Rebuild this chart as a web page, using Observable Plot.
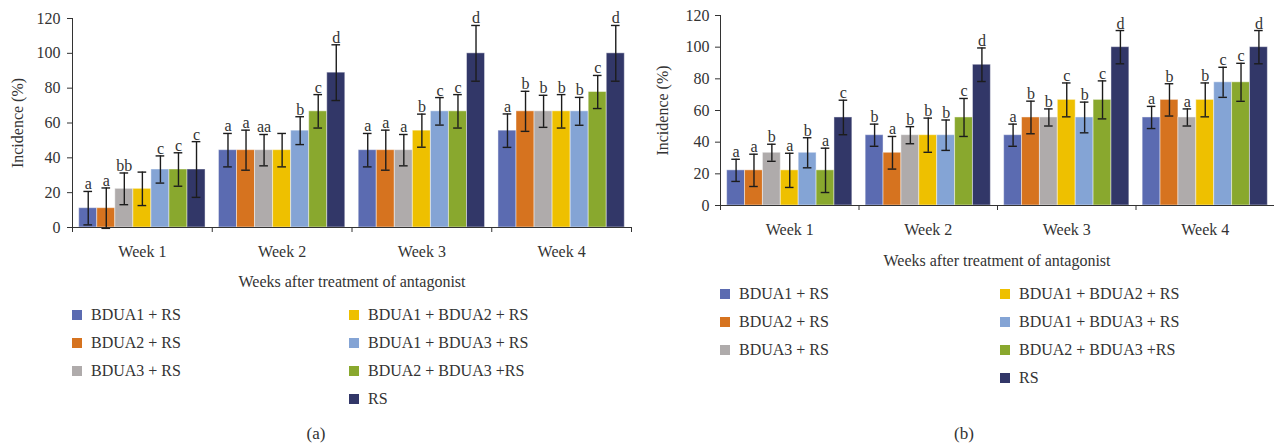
<!DOCTYPE html>
<html>
<head>
<meta charset="utf-8">
<script src="https://cdn.jsdelivr.net/npm/d3@7"></script>
<script src="https://cdn.jsdelivr.net/npm/@observablehq/plot@0.6"></script>
<style>
  html, body { margin: 0; padding: 0; background: #fff; }
  #page { position: relative; width: 1274px; height: 447px; font-family: 'Liberation Serif', 'DejaVu Serif', serif; color: #333; overflow: hidden; }
  #page svg text { font-size: 16px; }
  .panel { position: absolute; top: 0; }
  .ctr { position: absolute; transform: translate(-50%, -50%); white-space: nowrap; }
  .xtitle { font-size: 16px; }
  .cap { font-size: 17px; }
  .leg { position: absolute; font-size: 16px; white-space: nowrap; transform: translateY(-50%); display: flex; align-items: center; }
  .sw { width: 10px; height: 10px; display: inline-block; }
</style>
</head>
<body>
<div id="page"></div>
<script>
const weeks = ["Week 1", "Week 2", "Week 3", "Week 4"];
const series = ["BDUA1 + RS", "BDUA2 + RS", "BDUA3 + RS", "BDUA1 + BDUA2 + RS", "BDUA1 + BDUA3 + RS", "BDUA2 + BDUA3 +RS", "RS"];
const colors = ["#5b6bb1", "#d6731f", "#afabab", "#eec000", "#84a4d5", "#89a82e", "#323768"];
const yTicks = [0, 20, 40, 60, 80, 100, 120];

// Panel (a): incidence per series (rows) and week (columns)
const incidenceA = [
  [11.1, 44.4, 44.4, 55.6],
  [11.1, 44.4, 44.4, 66.7],
  [22.2, 44.4, 44.4, 66.7],
  [22.2, 44.4, 55.6, 66.7],
  [33.3, 55.6, 66.7, 66.7],
  [33.3, 66.7, 66.7, 77.8],
  [33.3, 88.9, 100, 100]
];
const errorA = [
  [9.6, 9.6, 9.6, 9.6],
  [11.6, 11.5, 11.5, 11.5],
  [9.1, 9.0, 9.0, 9.2],
  [9.6, 9.6, 9.5, 9.6],
  [7.8, 8.0, 7.9, 8.0],
  [9.6, 9.6, 9.6, 9.5],
  [16, 16, 16, 16]
];
const lettersA = [
  ["a", "a", "a", "a"],
  ["a", "a", "a", "b"],
  ["bb", "aa", "a", "b"],
  ["", "", "b", "b"],
  ["c", "b", "c", "b"],
  ["c", "c", "c", "c"],
  ["c", "d", "d", "d"]
];

// Panel (b)
const incidenceB = [
  [22.2, 44.4, 44.4, 55.6],
  [22.2, 33.3, 55.6, 66.7],
  [33.3, 44.4, 55.6, 55.6],
  [22.2, 44.4, 66.7, 66.7],
  [33.3, 44.4, 55.6, 77.8],
  [22.2, 55.6, 66.7, 77.8],
  [55.6, 88.9, 100, 100]
];
const errorB = [
  [7, 7, 7, 7],
  [10.2, 10.3, 10.3, 10.2],
  [5.4, 5.4, 5.4, 5.4],
  [10.8, 10.8, 10.7, 10.7],
  [9.5, 9.6, 9.7, 9.5],
  [14, 12, 12, 12],
  [10.9, 10.6, 10.5, 10.5]
];
const lettersB = [
  ["a", "b", "a", "a"],
  ["a", "a", "b", "b"],
  ["b", "b", "b", "a"],
  ["a", "b", "c", "b"],
  ["b", "b", "b", "c"],
  ["a", "c", "c", "c"],
  ["c", "d", "d", "d"]
];

const xTitle = "Weeks after treatment of antagonist";
const yTitle = "Incidence (%)";

function panel(values, errs, letters, o) {
  const pad = 0.048, bw = (1 - 2 * pad) / series.length, cap = bw * 0.24;
  const rows = [];
  series.forEach((s, j) => weeks.forEach((w, i) => rows.push({
    week: w, series: s, value: values[j][i], err: errs[j][i], letter: letters[j][i],
    x1: i + pad + j * bw, x2: i + pad + (j + 1) * bw, xc: i + pad + (j + 0.5) * bw
  })));
  const ink = "#1c1c1c";
  return Plot.plot({
    width: 637, height: o.height,
    marginLeft: o.ml, marginRight: o.mr, marginTop: o.mt, marginBottom: o.mb,
    style: { fontFamily: "'Liberation Serif', 'DejaVu Serif', serif", fontSize: "16px", color: "#333", background: "transparent", overflow: "visible" },
    x: { domain: [0, weeks.length], ticks: d3.range(weeks.length + 1), tickFormat: () => "", tickSize: 5, label: null },
    y: { domain: [0, 120], ticks: yTicks, tickSize: 5, tickPadding: o.tp, line: true, label: null },
    color: { domain: series, range: colors },
    marks: [
      Plot.rect(rows, { x1: "x1", x2: "x2", y1: 0, y2: "value", fill: "series", stroke: "white", strokeOpacity: 0.45, strokeWidth: 1 }),
      Plot.ruleY([0], { stroke: "#333" }),
      Plot.ruleX(rows, { x: "xc", y1: d => d.value - d.err, y2: d => d.value + d.err, stroke: ink, strokeWidth: 1.4 }),
      Plot.ruleY(rows, { y: d => d.value + d.err, x1: d => d.xc - cap, x2: d => d.xc + cap, stroke: ink, strokeWidth: 1.4 }),
      Plot.ruleY(rows, { y: d => d.value - d.err, x1: d => d.xc - cap, x2: d => d.xc + cap, stroke: ink, strokeWidth: 1.4 }),
      Plot.text(rows, { x: "xc", y: d => d.value + d.err, text: "letter", lineAnchor: "bottom", dy: -2, fontSize: 16, fill: "#333" }),
      Plot.text(weeks, { x: (d, i) => i + 0.5, frameAnchor: "bottom", lineAnchor: "middle", dy: 24, text: d => d, fontSize: 16, fill: "#333" }),
      Plot.text([yTitle], { frameAnchor: "left", textAnchor: "middle", lineAnchor: "middle", rotate: -90, dx: o.ylx, text: d => d, fontSize: 16, fill: "#333" })
    ]
  });
}

function legend(parent, cols) {
  series.forEach((s, j) => {
    const c = j < 3 ? cols.c1 : cols.c2;
    const r = j < 3 ? j : j - 3;
    const el = document.createElement("div");
    el.className = "leg";
    el.style.left = c + "px";
    el.style.top = (cols.top + r * 28) + "px";
    const sw = document.createElement("span");
    sw.className = "sw";
    sw.style.background = colors[j];
    sw.style.marginRight = "9px";
    el.appendChild(sw);
    el.appendChild(document.createTextNode(s));
    parent.appendChild(el);
  });
}

function label(parent, cls, text, x, y) {
  const el = document.createElement("div");
  el.className = "ctr " + cls;
  el.style.left = x + "px";
  el.style.top = y + "px";
  el.textContent = text;
  parent.appendChild(el);
}

const page = document.getElementById("page");

const pa = document.createElement("div");
pa.className = "panel"; pa.style.left = "0px";
pa.appendChild(panel(incidenceA, errorA, lettersA, { height: 262, ml: 72, mr: 6, mt: 18, mb: 35, tp: 7, ylx: -55 }));
page.appendChild(pa);

const pb = document.createElement("div");
pb.className = "panel"; pb.style.left = "637px";
pb.appendChild(panel(incidenceB, errorB, lettersB, { height: 240, ml: 83, mr: 0, mt: 15, mb: 35, tp: 6, ylx: -58 }));
page.appendChild(pb);

label(page, "xtitle", xTitle, 352, 282);
label(page, "xtitle", xTitle, 997, 261);
legend(page, { c1: 72, c2: 349, top: 315 });
legend(page, { c1: 720, c2: 1000, top: 294 });
label(page, "cap", "(a)", 316, 434);
label(page, "cap", "(b)", 964, 434);
</script>
</body>
</html>
